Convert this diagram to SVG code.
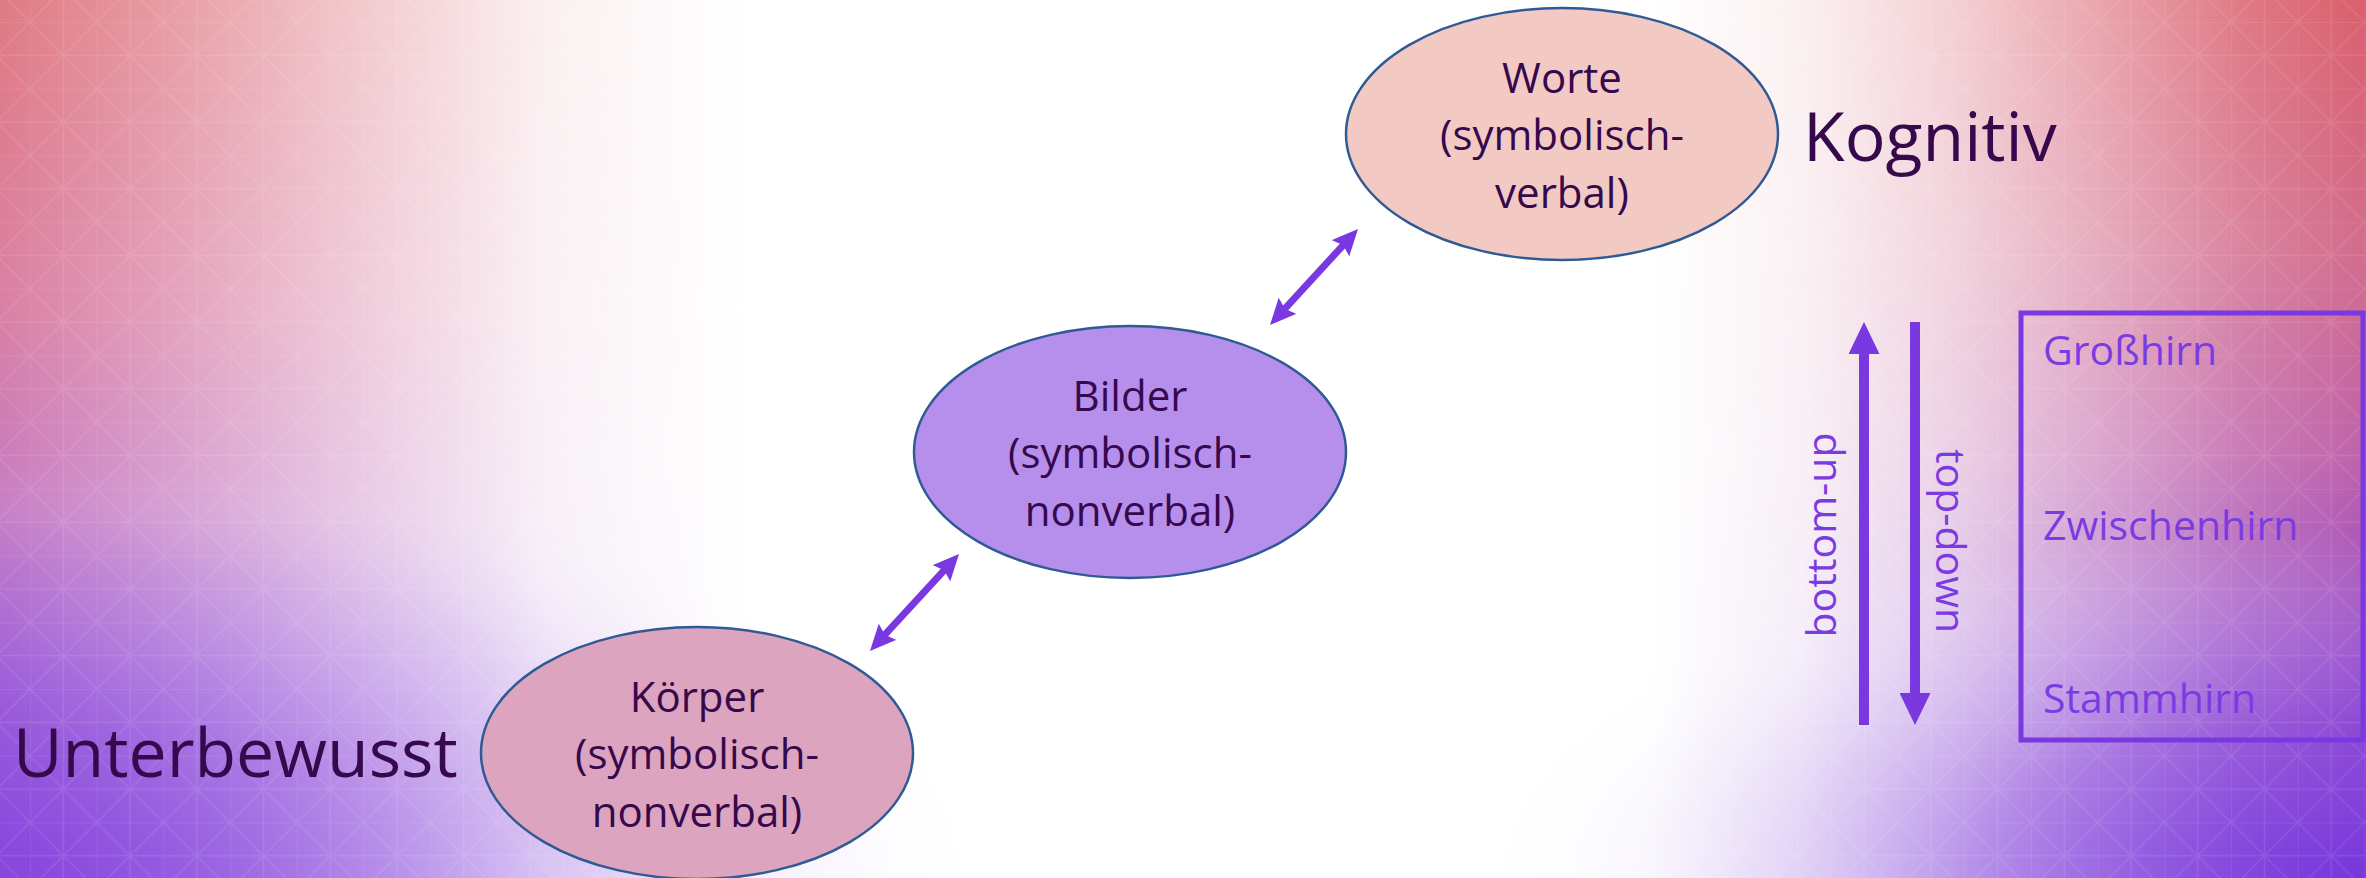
<svg xmlns="http://www.w3.org/2000/svg" width="2366" height="878" viewBox="0 0 2366 878">
<defs>
<style>
.lbl{font-family:"Open Sans","Noto Sans","DejaVu Sans",sans-serif;fill:#36084c;font-size:42px;text-anchor:middle}
.big{font-family:"Open Sans","Noto Sans","DejaVu Sans",sans-serif;fill:#36084c;font-size:68px}
.vio{font-family:"Open Sans","Noto Sans","DejaVu Sans",sans-serif;fill:#7b3be2;font-size:41px}
.node{stroke:#2f5a94;stroke-width:2.5}
.conn{stroke:#7a38e0;fill:none}
</style>
<linearGradient id="leftCol" x1="0" y1="0" x2="0" y2="878" gradientUnits="userSpaceOnUse">
<stop offset="0" stop-color="#e07a83"/>
<stop offset="0.35" stop-color="#da80a4"/>
<stop offset="0.58" stop-color="#c67ac2"/>
<stop offset="0.8" stop-color="#9a55d6"/>
<stop offset="1" stop-color="#7a38dc"/>
</linearGradient>
<linearGradient id="leftFade" x1="0" y1="0" x2="750" y2="0" gradientUnits="userSpaceOnUse">
<stop offset="0" stop-color="#fff"/>
<stop offset="0.2" stop-color="#c4c4c4"/>
<stop offset="0.47" stop-color="#6a6a6a"/>
<stop offset="0.73" stop-color="#1c1c1c"/>
<stop offset="1" stop-color="#000"/>
</linearGradient>
<mask id="mLeft"><rect x="0" y="0" width="750" height="878" fill="url(#leftFade)"/></mask>
<linearGradient id="rightCol" x1="0" y1="0" x2="0" y2="878" gradientUnits="userSpaceOnUse">
<stop offset="0" stop-color="#da5f6c"/>
<stop offset="0.28" stop-color="#d36c8c"/>
<stop offset="0.52" stop-color="#bf62aa"/>
<stop offset="0.75" stop-color="#9446c8"/>
<stop offset="1" stop-color="#7433da"/>
</linearGradient>
<linearGradient id="rightFade" x1="1650" y1="0" x2="2366" y2="0" gradientUnits="userSpaceOnUse">
<stop offset="0" stop-color="#000"/>
<stop offset="0.21" stop-color="#181818"/>
<stop offset="0.42" stop-color="#4a4a4a"/>
<stop offset="0.63" stop-color="#909090"/>
<stop offset="0.84" stop-color="#d8d8d8"/>
<stop offset="1" stop-color="#fff"/>
</linearGradient>
<mask id="mRight"><rect x="1650" y="0" width="716" height="878" fill="url(#rightFade)"/></mask>
<radialGradient id="blobBL">
<stop offset="0" stop-color="#8a48de" stop-opacity="0.85"/>
<stop offset="0.4" stop-color="#9a60e0" stop-opacity="0.45"/>
<stop offset="0.75" stop-color="#b890e8" stop-opacity="0.15"/>
<stop offset="1" stop-color="#ffffff" stop-opacity="0"/>
</radialGradient>
<radialGradient id="blobBR">
<stop offset="0" stop-color="#7836dc" stop-opacity="0.8"/>
<stop offset="0.45" stop-color="#9356de" stop-opacity="0.4"/>
<stop offset="1" stop-color="#ffffff" stop-opacity="0"/>
</radialGradient>
<pattern id="grid" x="30" y="22" width="66.7" height="66.7" patternUnits="userSpaceOnUse">
<path d="M0,0 H66.7 M0,33.35 H66.7 M0,0 V66.7 M33.35,0 V66.7 M0,0 L66.7,66.7 M66.7,0 L0,66.7" stroke="#ffffff" stroke-opacity="0.1" stroke-width="1.5" fill="none"/>
</pattern>
<marker id="headS" viewBox="0 0 26 24" markerWidth="26" markerHeight="24" refX="10" refY="12" orient="auto-start-reverse" markerUnits="userSpaceOnUse">
<path d="M0,0 L26,12 L0,24 L4,12 z" fill="#7a38e0"/>
</marker>
<marker id="headL" viewBox="0 0 32 31" markerWidth="32" markerHeight="31" refX="12" refY="15.5" orient="auto" markerUnits="userSpaceOnUse">
<path d="M0,0 L32,15.5 L0,31 z" fill="#7a38e0"/>
</marker>
</defs>

<g id="background">
<rect x="0" y="0" width="2366" height="878" fill="#ffffff"/>
<rect x="0" y="0" width="750" height="878" fill="url(#leftCol)" mask="url(#mLeft)"/>
<ellipse cx="0" cy="878" rx="1000" ry="420" fill="url(#blobBL)"/>
<rect x="1650" y="0" width="716" height="878" fill="url(#rightCol)" mask="url(#mRight)"/>
<ellipse cx="2366" cy="878" rx="900" ry="350" fill="url(#blobBR)"/>
<rect x="0" y="0" width="2366" height="878" fill="url(#grid)"/>
</g>

<g id="connectors">
<path class="conn" d="M880.8,639.2 L948.2,565.8" stroke-width="7" marker-start="url(#headS)" marker-end="url(#headS)"/>
<path class="conn" d="M1280.8,313.2 L1347.2,240.8" stroke-width="7" marker-start="url(#headS)" marker-end="url(#headS)"/>
<path class="conn" d="M1864,725 L1864,342" stroke-width="10" marker-end="url(#headL)"/>
<path class="conn" d="M1915,322 L1915,705" stroke-width="10" marker-end="url(#headL)"/>
</g>

<g id="node-worte">
<ellipse class="node" cx="1562" cy="134" rx="216" ry="126" fill="#f2cac3"/>
<text class="lbl" x="1562" y="93">Worte</text>
<text class="lbl" x="1562" y="150">(symbolisch-</text>
<text class="lbl" x="1562" y="208">verbal)</text>
</g>

<g id="node-bilder">
<ellipse class="node" cx="1130" cy="452" rx="216" ry="126" fill="#b68eec"/>
<text class="lbl" x="1130" y="411">Bilder</text>
<text class="lbl" x="1130" y="468">(symbolisch-</text>
<text class="lbl" x="1130" y="526">nonverbal)</text>
</g>

<g id="node-koerper">
<ellipse class="node" cx="697" cy="753" rx="216" ry="126" fill="#dca4be"/>
<text class="lbl" x="697" y="712">Körper</text>
<text class="lbl" x="697" y="769">(symbolisch-</text>
<text class="lbl" x="697" y="827">nonverbal)</text>
</g>

<g id="label-kognitiv">
<text class="big" x="1803" y="161">Kognitiv</text>
</g>

<g id="label-unterbewusst">
<text class="big" x="13" y="777">Unterbewusst</text>
</g>

<g id="label-bottom-up">
<text class="vio" font-size="43" text-anchor="middle" transform="translate(1836,535) rotate(-90)">bottom-up</text>
</g>

<g id="label-top-down">
<text class="vio" font-size="43" text-anchor="middle" transform="translate(1936,541) rotate(90)">top-down</text>
</g>

<g id="node-gehirn">
<rect x="2021" y="313" width="342" height="427" fill="none" stroke="#7a38e0" stroke-width="5"/>
<text class="vio" x="2043" y="365">Großhirn</text>
<text class="vio" x="2043" y="540">Zwischenhirn</text>
<text class="vio" x="2043" y="713">Stammhirn</text>
</g>
</svg>
